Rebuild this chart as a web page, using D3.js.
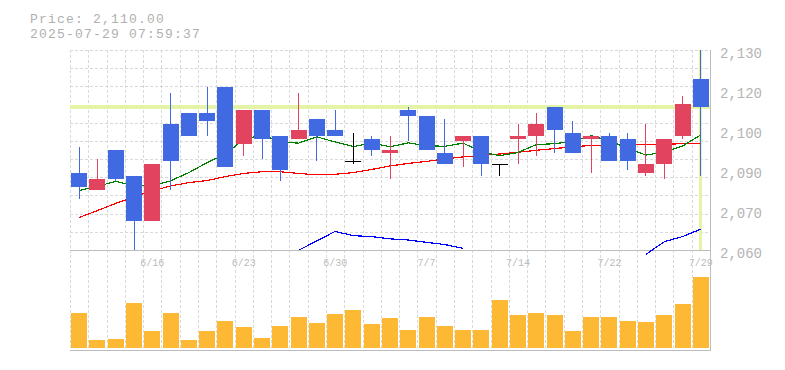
<!DOCTYPE html>
<html>
<head>
<meta charset="utf-8">
<script src="https://cdn.jsdelivr.net/npm/d3@7/dist/d3.min.js"></script>
<style>
body { margin: 0; background: #fff; }
text { font-family: "Liberation Mono", monospace; }
</style>
</head>
<body>
<div id="chart"></div>
<script>
// daily candles, 6/10 .. 7/29
var dates = ["6/10","6/11","6/12","6/13","6/16","6/17","6/18","6/19","6/20",
  "6/23","6/24","6/25","6/26","6/27","6/30","7/1","7/2","7/3","7/4",
  "7/7","7/8","7/9","7/10","7/11","7/14","7/15","7/16","7/17","7/18",
  "7/22","7/23","7/24","7/25","7/28","7/29"];
var openP  = [2087,2081,2095,2086,2070,2104,2108,2108,2117,2097,2109,2100,2099,2106,2102,2091,2099,2094,2109,2107,2094,2098,2100,2090,2099,2100,2110,2101,2099,2100,2099,2087,2090,2100,2120];
var highP  = [2096,2092,2095,2086,2090,2115,2108,2117,2117,2109,2109,2100,2115,2106,2109,2101,2100,2100,2110,2107,2106,2100,2100,2090,2104,2108,2110,2105,2100,2101,2101,2104,2099,2114,2130];
var lowP   = [2078,2081,2084,2060,2070,2081,2100,2100,2089,2093,2092,2084,2099,2091,2100,2090,2093,2085,2098,2095,2090,2089,2086,2086,2090,2093,2094,2094,2087,2091,2088,2086,2085,2099,2086];
var closeP = [2082,2085,2085,2070,2090,2091,2100,2105,2089,2109,2099,2088,2102,2100,2100,2091,2095,2095,2107,2095,2090,2100,2090,2090,2100,2104,2102,2094,2100,2091,2091,2090,2099,2111,2110];
var volume = [35000,8000,9000,45000,17000,35000,8000,17000,27000,21000,10000,22000,31000,25000,34000,38000,24000,30000,
  18000,31000,22000,18000,18000,48000,33000,35000,33000,17000,31000,31000,27000,26000,33000,44000,71000];
var ma5  = [2080.8,2082.3,2084.0,2082.6,2082.4,2084.2,2087.1,2090.6,2093.6,2098.7,2100.3,2097.9,2097.4,2099.6,2097.8,2096.2,2097.5,2096.1,
  2097.5,2096.5,2096.3,2097.4,2094.4,2093.0,2094.1,2096.9,2097.2,2098.0,2100.0,2098.2,2095.6,2093.2,2094.3,2096.4,2100.3];
var ma25 = [2071.4,2073.8,2076.3,2078.6,2080.7,2082.4,2083.6,2084.3,2085.7,2086.8,2087.4,2087.4,2086.8,2086.3,2086.5,2087.1,2088.2,2089.4,
  2090.3,2091.0,2091.9,2092.6,2093.1,2093.6,2094.2,2094.9,2095.5,2096.1,2096.6,2096.8,2096.8,2096.8,2097.0,2097.2,2097.4];
var ma75 = [null,null,null,null,null,null,null,null,null,null,null,null,2059.9,2063.2,2066.5,2065.0,2064.7,2063.9,2063.5,2062.7,2061.9,2060.6,
  null,null,null,null,null,null,null,null,null,2058.5,2062.9,2064.7,2067.3];
var yTickValues = [2130, 2116, 2102, 2088, 2074, 2060];
var yTickLabels = ["2,130","2,120","2,100","2,090","2,070","2,060"];
var xTickLabels = ["6/16","6/23","6/30","7/7","7/14","7/22","7/29"];
var lastPrice = 2110;
var titleText = "Price: 2,110.00";
var stampText = "2025-07-29 07:59:37";

var svgWidth = 785, svgHeight = 370;
var left = 70, right = 710;
var priceTop = 50, priceBottom = 250;
var volTop = 276, volBottom = 348, volAxis = 350;

var svg = d3.select("#chart").append("svg")
    .attr("width", svgWidth)
    .attr("height", svgHeight);

var x = d3.scaleBand().domain(dates).range([left, right]);
var y = d3.scaleLinear().domain([2060, 2130]).range([priceBottom, priceTop]);
var yVol = d3.scaleLinear().domain([0, 72000]).range([volBottom, volTop]);
var cx = function(d) { return x(d) + x.bandwidth() / 2; };
var bodyW = 16;

var data = dates.map(function(d, i) {
  return { date: d, o: openP[i], h: highP[i], l: lowP[i], c: closeP[i], v: volume[i] };
});

// grid
var grid = svg.append("g").attr("stroke", "#d9d9d9").attr("stroke-dasharray", "3,2")
    .attr("shape-rendering", "crispEdges");
grid.selectAll(".hg").data(d3.range(12)).enter().append("line")
    .attr("x1", left).attr("x2", right)
    .attr("y1", function(i) { return Math.round(priceTop + i * (priceBottom - priceTop) / 11) + 0.5; })
    .attr("y2", function(i) { return Math.round(priceTop + i * (priceBottom - priceTop) / 11) + 0.5; });
grid.selectAll(".vg").data(dates).enter().append("line")
    .attr("x1", function(d) { return Math.round(x(d)) + 0.5; })
    .attr("x2", function(d) { return Math.round(x(d)) + 0.5; })
    .attr("y1", priceTop).attr("y2", volAxis);

// current price crosshair
var hl = svg.append("g").attr("stroke", "#e3f4a6").attr("shape-rendering", "crispEdges");
hl.append("line").attr("x1", left).attr("x2", right)
    .attr("y1", y(lastPrice)).attr("y2", y(lastPrice)).attr("stroke-width", 4);
hl.append("line").attr("x1", cx(dates[dates.length - 1])).attr("x2", cx(dates[dates.length - 1]))
    .attr("y1", priceTop).attr("y2", priceBottom).attr("stroke-width", 3);

// axes frame
var frame = svg.append("g").attr("stroke", "#bdbdbd").attr("shape-rendering", "crispEdges");
frame.append("line").attr("x1", left).attr("x2", right).attr("y1", priceBottom + 0.5).attr("y2", priceBottom + 0.5);
frame.append("line").attr("x1", left).attr("x2", right).attr("y1", volAxis + 0.5).attr("y2", volAxis + 0.5);
frame.append("line").attr("x1", right + 0.5).attr("x2", right + 0.5).attr("y1", priceTop).attr("y2", volAxis + 1);

// moving averages
function maLine(arr, color) {
  var line = d3.line()
      .defined(function(d) { return d != null; })
      .x(function(d, i) { return cx(dates[i]); })
      .y(function(d) { return y(d); });
  svg.append("path").datum(arr)
      .attr("d", line)
      .attr("fill", "none")
      .attr("stroke", color)
      .attr("stroke-width", 1.2)
      .attr("shape-rendering", "crispEdges");
}
maLine(ma75, "#0000ff");
maLine(ma25, "#ff0000");
maLine(ma5, "#008000");

// candles
function candleColor(d) {
  if (d.c > d.o) return "#e2445f";
  if (d.c < d.o) return "#4169e1";
  return "#000";
}
var candles = svg.append("g").attr("shape-rendering", "crispEdges");
candles.selectAll(".wick").data(data).enter().append("line")
    .attr("x1", function(d) { return Math.floor(cx(d.date)) + 0.5; })
    .attr("x2", function(d) { return Math.floor(cx(d.date)) + 0.5; })
    .attr("y1", function(d) { return y(d.h); })
    .attr("y2", function(d) { return y(d.l); })
    .attr("stroke", candleColor)
    .attr("stroke-width", 1);
candles.selectAll(".body").data(data.filter(function(d) { return d.o !== d.c; })).enter().append("rect")
    .attr("x", function(d) { return Math.round(cx(d.date) - bodyW / 2); })
    .attr("width", bodyW)
    .attr("y", function(d) { return y(Math.max(d.o, d.c)); })
    .attr("height", function(d) { return Math.abs(y(d.o) - y(d.c)); })
    .attr("fill", candleColor);
candles.selectAll(".doji").data(data.filter(function(d) { return d.o === d.c; })).enter().append("line")
    .attr("x1", function(d) { return Math.round(cx(d.date) - bodyW / 2); })
    .attr("x2", function(d) { return Math.round(cx(d.date) + bodyW / 2); })
    .attr("y1", function(d) { return Math.round(y(d.c)) + 0.5; })
    .attr("y2", function(d) { return Math.round(y(d.c)) + 0.5; })
    .attr("stroke", "#000");

// volume
svg.append("g").selectAll("rect").data(data).enter().append("rect")
    .attr("x", function(d) { return Math.round(cx(d.date) - bodyW / 2); })
    .attr("width", bodyW)
    .attr("y", function(d) { return yVol(d.v); })
    .attr("height", function(d) { return volBottom - yVol(d.v); })
    .attr("fill", "#fdb933")
    .attr("shape-rendering", "crispEdges");

// y labels
svg.append("g").selectAll("text").data(yTickValues).enter().append("text")
    .attr("x", 720)
    .attr("y", function(v) { return y(v) + 7.5; })
    .attr("font-size", 14)
    .attr("fill", "#b4b4b4")
    .text(function(v, i) { return yTickLabels[i]; });

// x labels
svg.append("g").selectAll("text").data(xTickLabels).enter().append("text")
    .attr("x", function(d) { return cx(d); })
    .attr("y", 266)
    .attr("text-anchor", "middle")
    .attr("font-size", 10)
    .attr("fill", "#bcbcbc")
    .text(function(d) { return d; });

// title, two lines
svg.append("text").attr("x", 30).attr("y", 23).attr("font-size", 13)
    .attr("letter-spacing", 1.2).attr("fill", "#b0b0b0").text(titleText);
svg.append("text").attr("x", 30).attr("y", 38).attr("font-size", 13)
    .attr("letter-spacing", 1.2).attr("fill", "#b0b0b0").text(stampText);
</script>
</body>
</html>
